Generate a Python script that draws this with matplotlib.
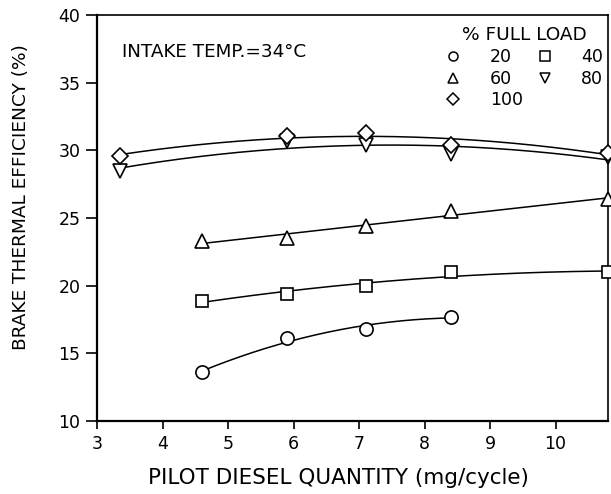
import numpy as np
import matplotlib
matplotlib.use("Agg")
import matplotlib.pyplot as plt
from matplotlib.lines import Line2D

plt.rcParams["font.family"] = ["DejaVu Sans"]

# Pilot diesel quantity (mg/cycle) and brake thermal efficiency (%) per load
load_labels = ["20", "40", "60", "80", "100"]
markers = ["o", "s", "^", "v", "D"]

x_20 = [4.6, 5.9, 7.1, 8.4]
y_20 = [13.6, 16.1, 16.8, 17.7]

x_40 = [4.6, 5.9, 7.1, 8.4, 10.8]
y_40 = [18.9, 19.4, 20.0, 21.0, 21.0]

x_60 = [4.6, 5.9, 7.1, 8.4, 10.8]
y_60 = [23.3, 23.5, 24.4, 25.5, 26.4]

x_80 = [3.35, 5.9, 7.1, 8.4, 10.8]
y_80 = [28.5, 30.7, 30.4, 29.7, 29.5]

x_100 = [3.35, 5.9, 7.1, 8.4, 10.8]
y_100 = [29.6, 31.05, 31.3, 30.4, 29.8]

series = [(x_20, y_20), (x_40, y_40), (x_60, y_60), (x_80, y_80), (x_100, y_100)]
marker_sizes = [9.5, 8.5, 9.5, 9.5, 8.5]

fig = plt.figure(figsize=(6.11, 4.94), dpi=100)
ax = fig.add_axes([97 / 611, 73 / 494, 511 / 611, 406 / 494])

handles = {}
for (xs, ys), lab, mk, ms in zip(series, load_labels, markers, marker_sizes):
    xs = np.asarray(xs)
    ys = np.asarray(ys)
    # smooth trend curve (least-squares quadratic) through each load series
    coef = np.polyfit(xs, ys, 2)
    xf = np.linspace(xs.min(), xs.max(), 200)
    ax.plot(xf, np.polyval(coef, xf), color="black", lw=1.1, zorder=2, clip_on=False)
    ax.plot(xs, ys, linestyle="none", marker=mk, ms=ms, mfc="white", mec="black",
            mew=1.2, zorder=3, clip_on=False)
    handles[lab] = Line2D([], [], linestyle="none", marker=mk, ms=6.5, mfc="white",
                          mec="black", mew=1.1)

ax.set_xlim(3, 10.8)
ax.set_ylim(10, 40)
ax.set_xticks(range(3, 11))
ax.set_yticks(range(10, 41, 5))

for side in ["left", "bottom"]:
    ax.spines[side].set_linewidth(1.6)
for side in ["top", "right"]:
    ax.spines[side].set_linewidth(1.2)

ax.tick_params(axis="both", direction="out", color="black", width=1.2,
               labelsize=12.5, colors="black")
ax.tick_params(axis="y", length=8, pad=4)
ax.tick_params(axis="x", length=6, pad=4)

ax.set_xlabel("PILOT DIESEL QUANTITY (mg/cycle)", fontsize=15.5)
ax.set_ylabel("BRAKE THERMAL EFFICIENCY (%)", fontsize=13.3)
ax.xaxis.set_label_coords(0.473, -0.116)
ax.yaxis.set_label_coords(-0.132, 0.552)

ax.text(0.048, 0.908, "INTAKE TEMP.=34°C", transform=ax.transAxes,
        fontsize=13.2, ha="left", va="center")

order = ["20", "60", "100", "40", "80"]
leg = ax.legend([handles[k] for k in order], order, ncol=2, frameon=False,
                title="% FULL LOAD", title_fontsize=13.3, fontsize=12.5,
                loc="upper right", bbox_to_anchor=(1.004, 0.99),
                handletextpad=1.6, columnspacing=0.75, labelspacing=0.22,
                handlelength=1.0, borderaxespad=0.0)

fig.savefig("out.png", dpi=100)
